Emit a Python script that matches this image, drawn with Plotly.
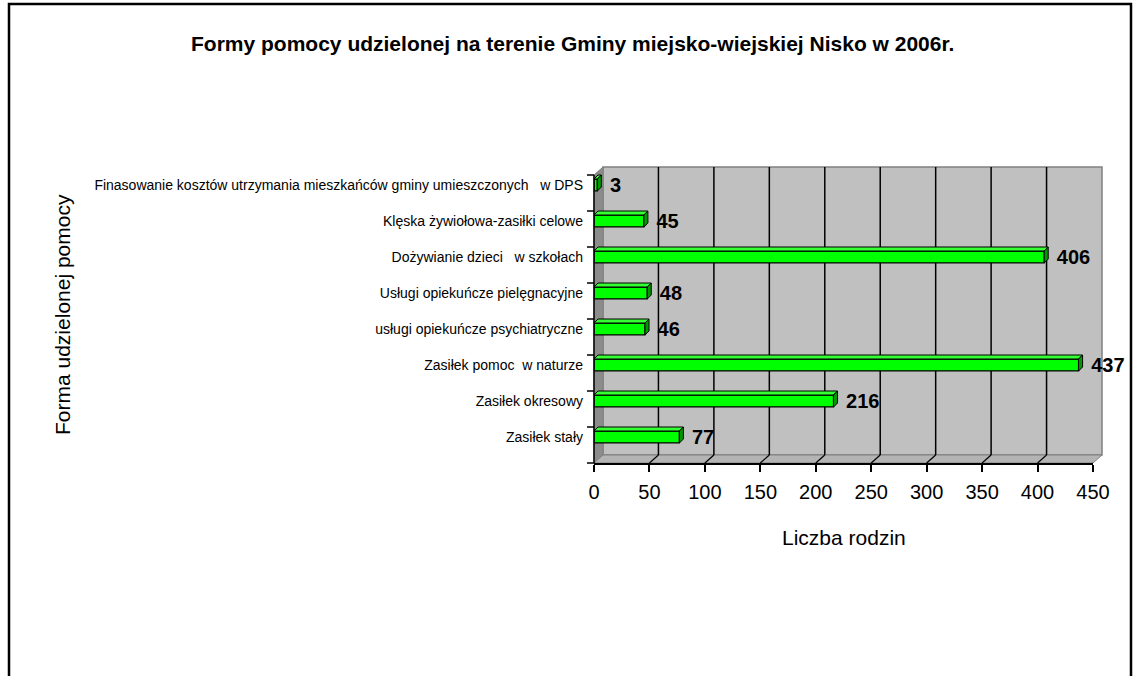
import plotly.graph_objects as go

# data, bottom category first
categories = [
    "Zasiłek stały",
    "Zasiłek okresowy",
    "Zasiłek pomoc  w naturze",
    "usługi opiekuńcze psychiatryczne",
    "Usługi opiekuńcze pielęgnacyjne",
    "Dożywianie dzieci   w szkołach",
    "Klęska żywiołowa-zasiłki celowe",
    "Finasowanie kosztów utrzymania mieszkańców gminy umieszczonych   w DPS",
]
families = [77, 216, 437, 46, 48, 406, 45, 3]
x_ticks = [0, 50, 100, 150, 200, 250, 300, 350, 400, 450]

# page geometry (pixels) - front face of the pseudo 3d plot
L, R, T, B = 594, 41, 167, 213
FIG_W, FIG_H = 1134, 676
W = FIG_W - L - R
H = FIG_H - T - B
DX, DY = 9, 8  # depth of the 3d box


def fx(px):
    return (px - L) / W


def fy(py):
    return (FIG_H - B - py) / H


FONT = "Liberation Sans, Arial, sans-serif"
idx = list(range(len(categories)))

fig = go.Figure()
fig.add_trace(go.Bar(
    x=families,
    y=idx,
    orientation="h",
    width=0.33,
    marker=dict(color="#00ff00", line=dict(color="black", width=1.3)),
    texttemplate="\u00a0\u2009<b>%{x}</b>",
    textposition="outside",
    textfont=dict(size=20, color="black", family=FONT),
    constraintext="none",
    cliponaxis=False,
    hoverinfo="x+y",
))

shapes = []
# walls
front_bottom = FIG_H - B
shapes.append(dict(type="rect", xref="paper", yref="paper", layer="below",
                   x0=fx(L + DX), x1=fx(L + W + DX), y0=fy(front_bottom - DY), y1=fy(T),
                   fillcolor="#c0c0c0", line=dict(color="#808080", width=1.5)))
shapes.append(dict(type="path", xref="paper", yref="paper", layer="below",
                   path=f"M{fx(L)},{fy(T + DY)} L{fx(L + DX)},{fy(T)} L{fx(L + DX)},{fy(front_bottom - DY)} "
                        f"L{fx(L)},{fy(front_bottom)} Z",
                   fillcolor="#8c8c8c", line=dict(color="#808080", width=1)))
shapes.append(dict(type="path", xref="paper", yref="paper", layer="below",
                   path=f"M{fx(L)},{fy(front_bottom)} L{fx(L + DX)},{fy(front_bottom - DY)} "
                        f"L{fx(L + W + DX)},{fy(front_bottom - DY)} L{fx(L + W)},{fy(front_bottom)} Z",
                   fillcolor="#b4b4b4", line=dict(color="#808080", width=1)))
# back-wall gridlines and floor diagonals
for v in x_ticks:
    if 0 < v < x_ticks[-1]:
        shapes.append(dict(type="line", xref="x", yref="paper", layer="below",
                           xsizemode="pixel", xanchor=v, x0=DX, x1=DX,
                           y0=fy(front_bottom - DY), y1=fy(T),
                           line=dict(color="black", width=1.5)))
    if v > 0:
        shapes.append(dict(type="line", xref="x", yref="paper", layer="below",
                           xsizemode="pixel", xanchor=v, x0=0, x1=DX,
                           y0=0, y1=fy(front_bottom - DY),
                           line=dict(color="black", width=1.2)))
# left axis line and category boundary ticks
shapes.append(dict(type="line", xref="paper", yref="paper", x0=0, x1=0,
                   y0=0, y1=fy(T + DY), line=dict(color="black", width=1.5)))
step = (H - DY) / len(categories)
for k in range(len(categories) + 1):
    py = front_bottom - k * step
    shapes.append(dict(type="line", xref="paper", yref="paper",
                       x0=fx(L - 7), x1=0, y0=fy(py), y1=fy(py),
                       line=dict(color="black", width=1.5)))
# 3d faces of the bars
d_units = 4 * x_ticks[-1] / W
for i, v in zip(idx, families):
    shapes.append(dict(type="path", xref="x", yref="y",
                       ysizemode="pixel", yanchor=i,
                       path=f"M0,6 L{v},6 L{v + d_units},10 L{d_units},10 Z",
                       fillcolor="#33ff33", line=dict(color="black", width=1)))
    shapes.append(dict(type="path", xref="x", yref="y",
                       xsizemode="pixel", ysizemode="pixel", xanchor=v, yanchor=i,
                       path="M0,-6 L0,6 L4,10 L4,-2 Z",
                       fillcolor="#009900", line=dict(color="black", width=1)))
# page frame
shapes.append(dict(type="rect", xref="paper", yref="paper",
                   x0=fx(9), x1=fx(1131), y0=fy(FIG_H + 20), y1=fy(4),
                   line=dict(color="black", width=2.5)))

fig.update_layout(
    width=FIG_W,
    height=FIG_H,
    margin=dict(l=L, r=R, t=T, b=B, autoexpand=False),
    paper_bgcolor="white",
    plot_bgcolor="rgba(0,0,0,0)",
    showlegend=False,
    font=dict(family=FONT, color="black"),
    title=dict(text="<b>Formy pomocy udzielonej na terenie Gminy miejsko-wiejskiej Nisko w 2006r.</b>",
               x=0.505, xanchor="center", y=1 - 44 / FIG_H, yanchor="middle",
               font=dict(size=21, family=FONT, color="black")),
    xaxis=dict(range=[0, x_ticks[-1]], tickvals=x_ticks, showgrid=False, zeroline=False,
               showline=True, linecolor="black", linewidth=1.5,
               ticks="outside", ticklen=7, tickcolor="black", tickwidth=1.5,
               tickfont=dict(size=20), ticklabelstandoff=3, automargin=False),
    yaxis=dict(range=[-0.5 - DY / step, len(categories) - 0.5], tickvals=idx, ticktext=categories,
               showgrid=False, zeroline=False, showline=False, ticks="",
               ticklabelstandoff=10, tickfont=dict(size=14), automargin=False),
    shapes=shapes,
    annotations=[
        dict(text="Forma udzielonej pomocy", xref="paper", yref="paper",
             x=fx(62), y=fy(315), textangle=-90, showarrow=False,
             font=dict(size=21), xanchor="center", yanchor="middle"),
        dict(text="Liczba rodzin", xref="paper", yref="paper",
             x=0.5, y=fy(537), showarrow=False,
             font=dict(size=21), xanchor="center", yanchor="middle"),
    ],
)

fig.write_html("out.html", config={"displayModeBar": False},
               post_script="document.body.style.margin = '0';")
